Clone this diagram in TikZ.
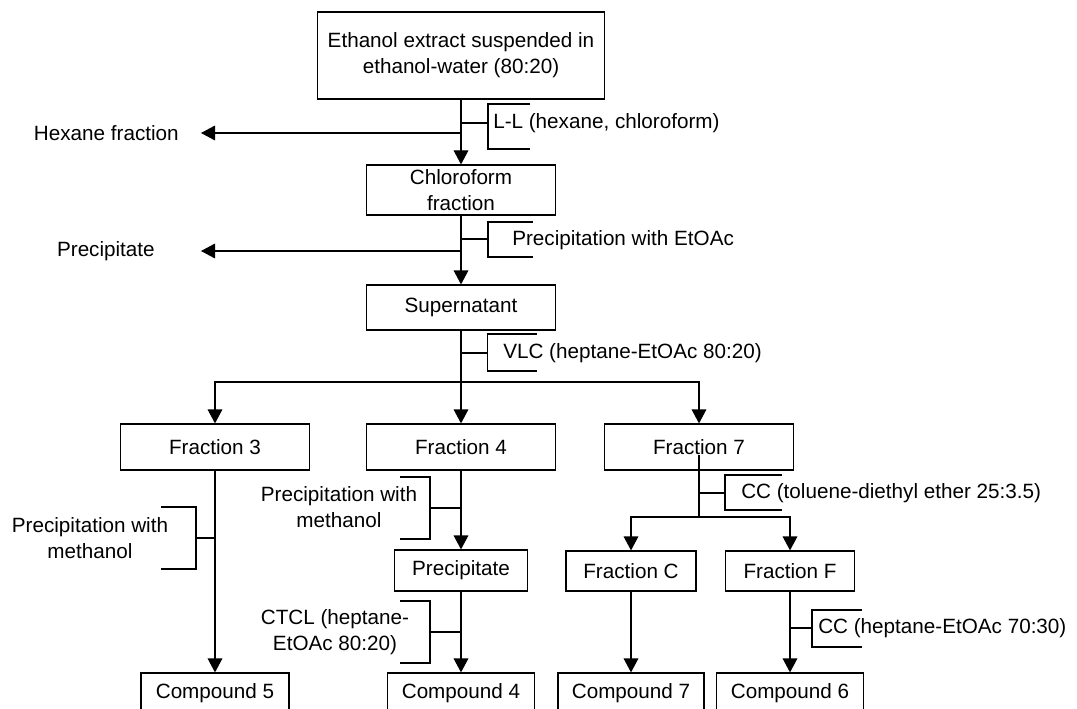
\documentclass[tikz,border=0pt]{standalone}
\usepackage{fontspec}
\setmainfont{Liberation Sans}
\usetikzlibrary{arrows.meta}
\tikzset{
  box/.style={draw, line width=0.9pt, inner sep=0pt, align=center, font=\fontsize{15.5}{19.5}\selectfont},
  lbl/.style={inner sep=0pt, align=center, font=\fontsize{15.5}{19.5}\selectfont},
  ln/.style={line width=0.9pt},
  arr/.style={line width=0.9pt, -{Triangle[length=10.5pt,width=11pt]}},
}
\begin{document}
\begin{tikzpicture}[x=0.75pt,y=-0.75pt]
\clip (0,0) rectangle (1077,709);
\fill[white] (0,0) rectangle (1077,709);
% main boxes
\node[box, minimum width=215.25pt, minimum height=65.25pt] (top) at (461,55.5) {Ethanol extract suspended in\\ethanol-water (80:20)};
\node[box, minimum width=141.75pt, minimum height=37.5pt] (chl) at (461,190) {Chloroform\\fraction};
\node[box, minimum width=141.75pt, minimum height=33.75pt] (sup) at (461,307.5) {Supernatant};
\node[box, minimum width=141.75pt, minimum height=34.5pt] (f3) at (215,447) {Fraction 3};
\node[box, minimum width=141.75pt, minimum height=34.5pt] (f4) at (461,447) {Fraction 4};
\node[box, minimum width=141.75pt, minimum height=34.5pt] (f7) at (699,447) {Fraction 7};
\node[box, minimum width=99.75pt, minimum height=30.75pt] (ppt) at (461,570.5) {Precipitate};
\node[box, minimum width=97.5pt, minimum height=30pt] (fC) at (631,571) {Fraction C};
\node[box, minimum width=96.75pt, minimum height=30pt] (fF) at (790,571) {Fraction F};
\node[box, minimum width=111pt, minimum height=30pt] (c5) at (215,693) {Compound 5};
\node[box, minimum width=110.25pt, minimum height=30pt] (c4) at (461,693) {Compound 4};
\node[box, minimum width=109.5pt, minimum height=30pt] (c7) at (631,693) {Compound 7};
\node[box, minimum width=110.25pt, minimum height=30pt] (c6) at (790,693) {Compound 6};
% side products
\node[lbl, anchor=east, inner xsep=16.5pt] (hex) at (201,133) {Hexane fraction};
\node[lbl, anchor=east, inner xsep=34.5pt] (pp1) at (201,251) {Precipitate};
% junction coordinates
\coordinate (jhex) at (461,133);
\coordinate (jpp) at (461,251);
\coordinate (b1) at (461,382);
\coordinate (b2) at (699,517);
\coordinate (t1) at (461,123);
\coordinate (t2) at (461,239);
\coordinate (t3) at (461,353);
\coordinate (t4) at (215,538);
\coordinate (t5) at (461,508);
\coordinate (t6) at (461,632);
\coordinate (t7) at (699,493);
\coordinate (t8) at (790,628);
% connectors
\draw[arr] (top) -- (chl);
\draw[arr] (jhex) -- (hex);
\draw[arr] (chl) -- (sup);
\draw[arr] (jpp) -- (pp1);
\draw[arr] (sup) -- (f4);
\draw[arr] (b1) -| (f3);
\draw[arr] (b1) -| (f7);
\draw[arr] (f3) -- (c5);
\draw[arr] (f4) -- (ppt);
\draw[arr] (ppt) -- (c4);
\draw[ln] ([yshift=-6pt]f7.center) -- (b2);
\draw[arr] (b2) -| (fC);
\draw[arr] (b2) -| (fF);
\draw[arr] (fC) -- (c7);
\draw[arr] (fF) -- (c6);
% brackets and labels
\draw[ln] (530,104) -- (488,104) -- (488,149) -- (530,149);
\draw[ln] (t1) -- (488,123);
\node[lbl, anchor=west] (l1) at (493,123) {L-L (hexane, chloroform)};
\draw[ln] (533,222) -- (488,222) -- (488,257) -- (533,257);
\draw[ln] (t2) -- (488,239);
\node[lbl, anchor=west] (l2) at (512,240) {Precipitation with EtOAc};
\draw[ln] (537,334) -- (487.5,334) -- (487.5,371) -- (537,371);
\draw[ln] (t3) -- (487.5,353);
\node[lbl, anchor=west] (l3) at (503,353) {VLC (heptane-EtOAc 80:20)};
\draw[ln] (161,507) -- (196,507) -- (196,569) -- (161,569);
\draw[ln] (t4) -- (196,538);
\node[lbl] (l4) at (90,538) {Precipitation with\\methanol};
\draw[ln] (400,477) -- (430,477) -- (430,539) -- (400,539);
\draw[ln] (t5) -- (430,508);
\node[lbl] (l5) at (339,507) {Precipitation with\\methanol};
\draw[ln] (400,601) -- (430,601) -- (430,663) -- (400,663);
\draw[ln] (t6) -- (430,632);
\node[lbl] (l6) at (335,632) {CTCL (heptane-\\EtOAc 80:20)};
\draw[ln] (782,475) -- (725,475) -- (725,510) -- (782,510);
\draw[ln] (t7) -- (725,493);
\node[lbl, anchor=west] (l7) at (741,493) {CC (toluene-diethyl ether 25:3.5)};
\draw[ln] (862,610) -- (812,610) -- (812,647) -- (862,647);
\draw[ln] (t8) -- (812,628);
\node[lbl, anchor=west] (l8) at (818,628) {CC (heptane-EtOAc 70:30)};
\end{tikzpicture}
\end{document}
